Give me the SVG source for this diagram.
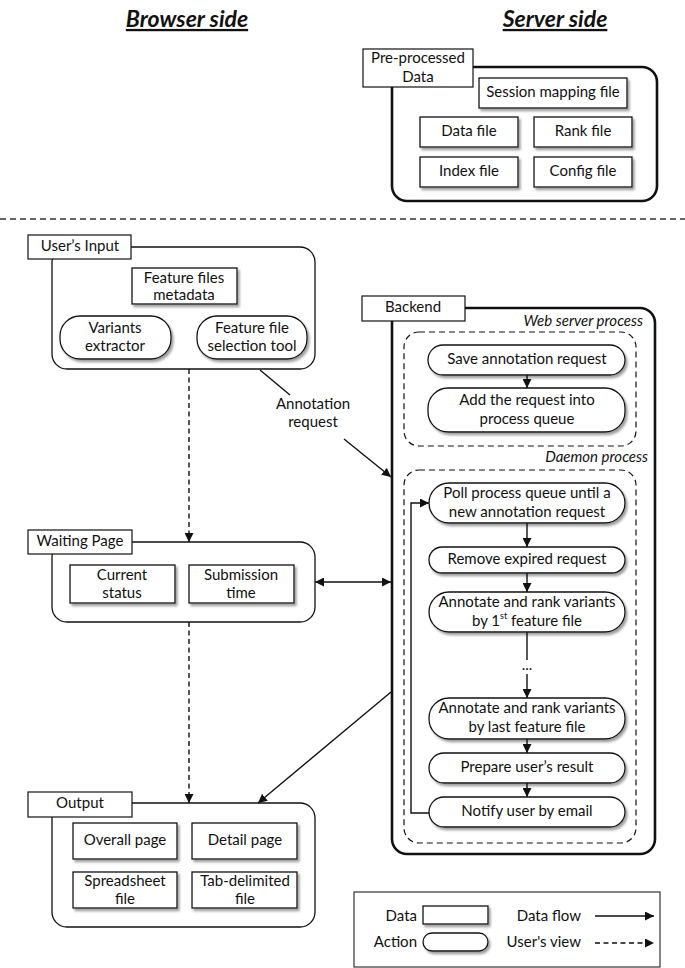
<svg xmlns="http://www.w3.org/2000/svg" width="685" height="968" viewBox="0 0 685 968">
<style>
text{font-family:Lato,"Open Sans","Liberation Sans",sans-serif;font-size:15px;fill:#111;text-anchor:middle;dominant-baseline:middle}
.title{font-size:23px;font-weight:bold;font-style:italic;text-decoration:underline}
.it{font-style:italic;text-anchor:end}
.box{fill:#fff;stroke:#111;stroke-width:1.3;filter:url(#sh)}
.lbl{fill:#fff;stroke:#111;stroke-width:1.2}
.cont{fill:none;stroke:#111;stroke-width:1.3}
.thick{fill:none;stroke:#111;stroke-width:2.6}
.dash{fill:none;stroke:#111;stroke-width:1.2;stroke-dasharray:6 4}
.ln{fill:none;stroke:#111;stroke-width:1.4}
.ar{marker-end:url(#ah)}
.dl{stroke-dasharray:5 3.5}
</style>
<defs>
<filter id="sh" x="-10%" y="-10%" width="125%" height="140%">
<feDropShadow dx="2" dy="2.5" stdDeviation="1" flood-color="#777" flood-opacity="0.7"/>
</filter>
<marker id="ah" viewBox="0 0 10 10" refX="10" refY="5" markerWidth="9" markerHeight="9" markerUnits="userSpaceOnUse" orient="auto-start-reverse">
<path d="M0,0 L10,5 L0,10 z" fill="#111"/>
</marker>
</defs>

<text class="title" x="187" y="21">Browser side</text>
<text class="title" x="555" y="21">Server side</text>

<line x1="0" y1="219" x2="685" y2="219" stroke="#333" stroke-width="1.3" stroke-dasharray="6 4"/>

<g id="preprocessed">
<rect class="thick" x="392" y="67" width="265" height="134" rx="15"/>
<rect class="lbl" x="363" y="49" width="110" height="38"/>
<text x="418" y="59">Pre-processed</text>
<text x="418" y="78">Data</text>
<g id="session-mapping"><rect class="box" x="479" y="78" width="148" height="30"/><text x="553" y="93">Session mapping file</text></g>
<g id="data-file"><rect class="box" x="420" y="117" width="98" height="30"/><text x="469" y="132">Data file</text></g>
<g id="rank-file"><rect class="box" x="534" y="117" width="98" height="30"/><text x="583" y="132">Rank file</text></g>
<g id="index-file"><rect class="box" x="420" y="157" width="98" height="30"/><text x="469" y="172">Index file</text></g>
<g id="config-file"><rect class="box" x="534" y="157" width="98" height="30"/><text x="583" y="172">Config file</text></g>
</g>

<g id="users-input">
<rect class="cont" x="52" y="247" width="263" height="122" rx="15"/>
<rect class="lbl" x="28" y="235" width="103" height="24"/>
<text x="80" y="247">User’s Input</text>
<g id="feature-metadata"><rect class="box" x="132" y="268" width="105" height="36"/><text x="184" y="279">Feature files</text><text x="184" y="296">metadata</text></g>
<g id="variants-extractor"><rect class="box" x="60" y="316" width="111" height="43" rx="20"/><text x="115" y="329">Variants</text><text x="115" y="347">extractor</text></g>
<g id="feature-selection"><rect class="box" x="197" y="316" width="110" height="43" rx="20"/><text x="252" y="329">Feature file</text><text x="252" y="347">selection tool</text></g>
</g>

<g id="waiting-page">
<rect class="cont" x="52" y="542" width="263" height="80" rx="15"/>
<rect class="lbl" x="28" y="530" width="104" height="24"/>
<text x="80" y="542">Waiting Page</text>
<g id="current-status"><rect class="box" x="70" y="565" width="105" height="38"/><text x="122" y="576">Current</text><text x="122" y="594">status</text></g>
<g id="submission-time"><rect class="box" x="189" y="565" width="105" height="38"/><text x="241" y="576">Submission</text><text x="241" y="594">time</text></g>
</g>

<g id="output">
<rect class="cont" x="52" y="803" width="263" height="124" rx="15"/>
<rect class="lbl" x="28" y="792" width="104" height="25"/>
<text x="80" y="804">Output</text>
<g id="overall-page"><rect class="box" x="73" y="823" width="104" height="36"/><text x="125" y="841">Overall page</text></g>
<g id="detail-page"><rect class="box" x="192" y="823" width="105" height="36"/><text x="245" y="841">Detail page</text></g>
<g id="spreadsheet"><rect class="box" x="73" y="872" width="104" height="36"/><text x="125" y="882">Spreadsheet</text><text x="125" y="900">file</text></g>
<g id="tab-delimited"><rect class="box" x="192" y="872" width="105" height="36"/><text x="245" y="882">Tab-delimited</text><text x="245" y="900">file</text></g>
</g>

<g id="backend">
<rect class="thick" x="392" y="308" width="263" height="546" rx="15"/>
<rect class="lbl" x="362" y="296" width="103" height="25"/>
<text x="413" y="308">Backend</text>
<text class="it" x="643" y="322">Web server process</text>
<rect class="dash" x="404" y="332" width="232" height="114" rx="15"/>
<text class="it" x="648" y="458">Daemon process</text>
<rect class="dash" x="404" y="470" width="232" height="373" rx="15"/>
<g id="save-request"><rect class="box" x="428" y="345" width="197" height="30" rx="15"/><text x="527" y="360">Save annotation request</text></g>
<g id="add-queue"><rect class="box" x="428" y="388" width="197" height="44" rx="20"/><text x="527" y="401">Add the request into</text><text x="527" y="420">process queue</text></g>
<g id="poll"><rect class="box" x="429" y="483" width="196" height="40" rx="20"/><text x="527" y="494">Poll process queue until a</text><text x="527" y="513">new annotation request</text></g>
<g id="remove-expired"><rect class="box" x="429" y="547" width="196" height="26" rx="13"/><text x="527" y="560">Remove expired request</text></g>
<g id="annotate-first"><rect class="box" x="429" y="592" width="196" height="40" rx="20"/><text x="527" y="603">Annotate and rank variants</text><text x="527" y="622">by 1<tspan font-size="9" dy="-5">st</tspan><tspan dy="5"> feature file</tspan></text></g>
<text x="527" y="666" font-size="10">...</text>
<g id="annotate-last"><rect class="box" x="429" y="698" width="196" height="41" rx="20"/><text x="527" y="709">Annotate and rank variants</text><text x="527" y="728">by last feature file</text></g>
<g id="prepare-result"><rect class="box" x="429" y="753" width="196" height="30" rx="15"/><text x="527" y="768">Prepare user’s result</text></g>
<g id="notify"><rect class="box" x="429" y="797" width="196" height="30" rx="15"/><text x="527" y="812">Notify user by email</text></g>
</g>

<g id="connectors">
<line class="ln ar" x1="527" y1="375" x2="527" y2="388"/>
<line class="ln ar" x1="527" y1="523" x2="527" y2="547"/>
<line class="ln ar" x1="527" y1="573" x2="527" y2="592"/>
<line class="ln" x1="527" y1="632" x2="527" y2="660"/>
<line class="ln ar" x1="527" y1="674" x2="527" y2="698"/>
<line class="ln ar" x1="527" y1="739" x2="527" y2="753"/>
<line class="ln ar" x1="527" y1="783" x2="527" y2="797"/>
<polyline class="ln ar" points="429,813 411,813 411,503 429,503"/>
<line class="ln ar dl" x1="189" y1="369" x2="189" y2="542"/>
<line class="ln ar dl" x1="189" y1="622" x2="189" y2="803"/>
<line class="ln" x1="260" y1="370" x2="290" y2="395"/>
<line class="ln ar" x1="344" y1="439" x2="391" y2="477"/>
<text x="313" y="405">Annotation</text>
<text x="313" y="423">request</text>
<line class="ln ar" x1="315" y1="582" x2="391" y2="582" marker-start="url(#ah)"/>
<line class="ln ar" x1="391" y1="692" x2="258" y2="803"/>
</g>

<g id="legend">
<rect x="354" y="892" width="306" height="75" fill="#fff" stroke="#333" stroke-width="1.2"/>
<text x="417" y="917" style="text-anchor:end">Data</text>
<rect class="box" x="423" y="906" width="65" height="18"/>
<text x="417" y="943" style="text-anchor:end">Action</text>
<rect class="box" x="423" y="933" width="65" height="18" rx="9"/>
<text x="581" y="917" style="text-anchor:end">Data flow</text>
<line class="ln ar" x1="595" y1="916" x2="654" y2="916"/>
<text x="581" y="943" style="text-anchor:end">User's view</text>
<line class="ln ar dl" x1="595" y1="943" x2="654" y2="943"/>
</g>
</svg>
